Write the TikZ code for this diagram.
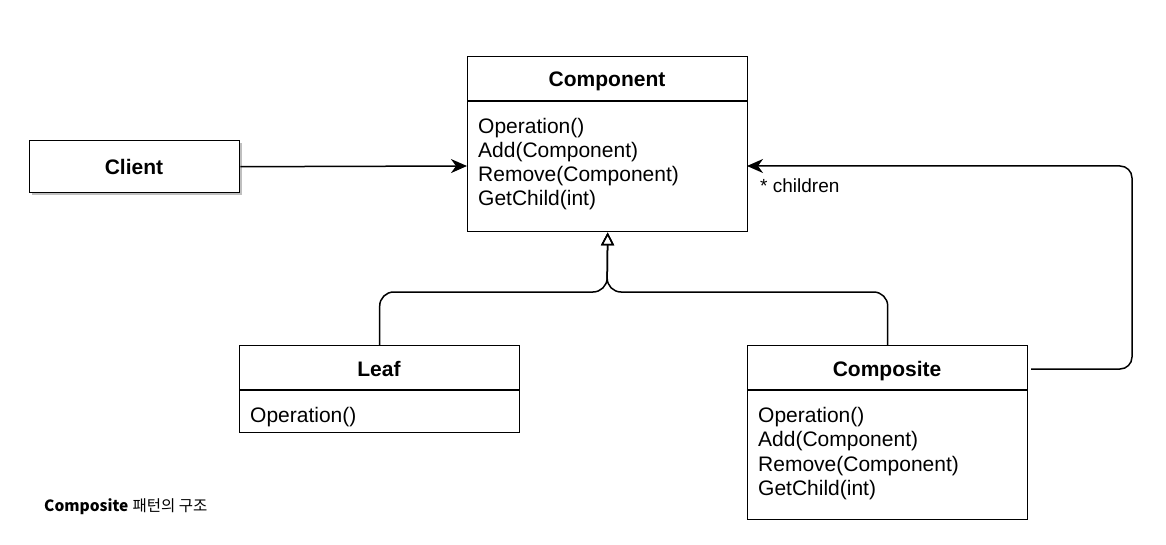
\documentclass[tikz,border=0pt]{standalone}
\usepackage{fontspec}
\setmainfont{Liberation Sans}
\newfontfamily\kr{Noto Sans CJK KR}
\usetikzlibrary{arrows.meta}
\begin{document}
\begin{tikzpicture}[x=1pt,y=-1pt,
  umlbox/.style={draw, line width=1.4pt, inner sep=0pt, anchor=north west, fill=white, minimum width=280pt},
  ttl/.style={font=\fontsize{21}{24}\selectfont\bfseries, inner sep=0pt, anchor=base},
  op/.style={font=\fontsize{21}{24}\selectfont, anchor=base west, inner sep=0pt},
  conn/.style={line width=1.5pt},
  fill tip/.style={-{Stealth[length=16pt,width=14pt,inset=5pt]}},
  open tip/.style={-{Triangle[open,length=13pt,width=13pt]}}
]
\useasboundingbox[fill=white] (0,0) rectangle (1166,545);

% Component
\node[umlbox, minimum height=175pt] (comp) at (467,56) {};
\draw[conn] (467,101) -- (747,101);
\node[ttl] (compt) at (607,87) {Component};
\node[op] (c1) at (478,134) {Operation()};
\node[op] (c2) at (478,158) {Add(Component)};
\node[op] (c3) at (478,182) {Remove(Component)};
\node[op] (c4) at (478,206) {GetChild(int)};

% Client
\node[fill=black!25, minimum width=210pt, minimum height=52pt, anchor=north west, inner sep=0pt] (clientsh) at (32,143) {};
\node[umlbox, minimum width=210pt, minimum height=52pt] (client) at (29,140) {};
\node[ttl] (clientt) at (134,175) {Client};

% Leaf
\node[umlbox, minimum height=87pt] (leaf) at (239,345) {};
\draw[conn] (239,390) -- (519,390);
\node[ttl] (leaft) at (379,376) {Leaf};
\node[op] (l1) at (250,422) {Operation()};

% Composite
\node[umlbox, minimum height=174pt] (compo) at (747,345) {};
\draw[conn] (747,390) -- (1027,390);
\node[ttl] (compot) at (887,376) {Composite};
\node[op] (p1) at (758,422) {Operation()};
\node[op] (p2) at (758,446) {Add(Component)};
\node[op] (p3) at (758,471) {Remove(Component)};
\node[op] (p4) at (758,495) {GetChild(int)};

% connectors
\coordinate (ca) at (467,166);
\draw[conn, fill tip] (client.east) -- (ca);

\coordinate (j) at (607,292);
\draw[conn, rounded corners=14pt, open tip] (leaf.north) |- (j) -- (comp.south);
\draw[conn, rounded corners=14pt, open tip] (compo.north) |- (j) -- (comp.south);

\coordinate (cs) at (1031,369);
\coordinate (rt) at (1132,166);
\coordinate (ce) at (747,166);
\draw[conn, rounded corners=12pt, fill tip] (cs) -- (rt |- cs) -- (rt) -- (ce);
\node[font=\fontsize{19}{22}\selectfont, anchor=base west, inner sep=0pt] (lbl) at (760,193) {* children};

% caption
\node[anchor=base west, inner sep=0pt, font=\fontsize{15.5}{18}\selectfont] (cap) at (44,511) {{\kr\bfseries Composite} {\kr 패턴의 구조}};
\end{tikzpicture}
\end{document}
